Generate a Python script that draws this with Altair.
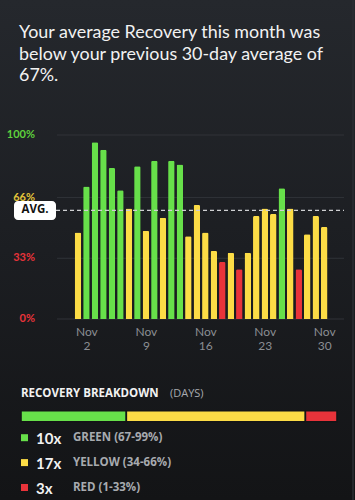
import altair as alt
import pandas as pd

# Daily recovery scores for November
days = list(range(1, 31))
recovery = [47, 72, 96, 92, 82, 70, 60, 83, 48, 86, 55, 86, 84, 45, 62,
            47, 37, 31, 36, 27, 36, 56, 60, 57, 71, 60, 27, 46, 56, 50]
month_avg = 59

zones = ["GREEN", "YELLOW", "RED"]
zone_colors = ["#67e04a", "#fcdc46", "#e8333a"]
zone_counts = [10, 17, 3]
zone_ranges = ["GREEN (67-99%)", "YELLOW (34-66%)", "RED (1-33%)"]

headline = ["Your average Recovery this month was",
            "below your previous 30-day average of",
            "67%."]

x_ticks = [2, 9, 16, 23, 30]
y_ticks = [0, 33, 66, 100]
y_tick_colors = ["#e8333a", "#e8333a", "#e3c53a", "#5fd13d"]

BG_LOW = "#131416"
FONT = "Lato"
CAPS_FONT = "Open Sans"


def zone_of(v):
    if v >= 67:
        return "GREEN"
    if v >= 34:
        return "YELLOW"
    return "RED"


df = pd.DataFrame({"day": days, "recovery": recovery,
                   "zone": [zone_of(v) for v in recovery]})
ticks_df = pd.DataFrame({"tick": y_ticks, "tcolor": y_tick_colors,
                         "label": [f"{t}%" for t in y_ticks]})
one = pd.DataFrame({"k": [0]})

color = alt.Color("zone:N", scale=alt.Scale(domain=zones, range=zone_colors),
                  legend=None)
y_scale = alt.Scale(domain=[0, 100], nice=False)

# ---- backdrop: dark vertical gradient ---------------------------------
backdrop = alt.Chart(one).mark_rect(
    color=alt.LinearGradient(
        gradient="linear", x1=0, y1=0, x2=0, y2=1,
        stops=[alt.GradientStop(color="#25282d", offset=0),
               alt.GradientStop(color="#1c1e22", offset=0.5),
               alt.GradientStop(color=BG_LOW, offset=1)])
).encode(x=alt.value(-57), x2=alt.value(298), y=alt.value(-135), y2=alt.value(365))

edge = alt.Chart(one).mark_rule(color="#2b2e33", strokeWidth=1.5).encode(
    x=alt.value(296), y=alt.value(-135), y2=alt.value(365))

# ---- main recovery bar chart -------------------------------------------
grid = alt.Chart(ticks_df).mark_rule(color="#303338", strokeWidth=1).encode(
    x=alt.value(0), x2=alt.value(287),
    y=alt.Y("tick:Q", scale=y_scale, axis=None))

y_labels = alt.Chart(ticks_df).mark_text(
    font=FONT, fontSize=11, fontWeight="bold", align="right", baseline="middle"
).encode(
    x=alt.value(-22), y=alt.Y("tick:Q", scale=y_scale, axis=None),
    text="label:N", color=alt.Color("tcolor:N", scale=None))

bars = alt.Chart(df).mark_bar(
    width=6.5, cornerRadiusTopLeft=1.5, cornerRadiusTopRight=1.5
).encode(
    x=alt.X("day:Q",
            scale=alt.Scale(domain=[-0.875, 31.74], nice=False, zero=False),
            axis=alt.Axis(values=x_ticks, title=None, grid=False, domain=False,
                          ticks=False, labelExpr="['Nov', datum.label]",
                          labelColor="#8b8e93", labelFont=FONT, labelFontSize=12,
                          labelLineHeight=14, labelPadding=7, labelBaseline="top",
                          zindex=1)),
    y=alt.Y("recovery:Q", scale=y_scale, axis=None),
    color=color,
)

avg_rule = alt.Chart(one).mark_rule(
    color="#cfd0d2", strokeDash=[4, 3], strokeWidth=1.2
).encode(x=alt.value(-1), x2=alt.value(287), y=alt.datum(month_avg))

avg_box = alt.Chart(one).mark_rect(
    color="white", cornerRadius=4, yOffset=-9.5, y2Offset=9.5
).encode(x=alt.value(-43), x2=alt.value(-1), y=alt.datum(month_avg),
         y2=alt.datum(month_avg))

avg_text = alt.Chart(one).mark_text(
    text="AVG.", font=CAPS_FONT, fontSize=11.5, fontWeight="bold", color="#111111",
    baseline="middle", align="center"
).encode(x=alt.value(-22), y=alt.datum(month_avg))

main = alt.layer(grid, y_labels, bars, avg_rule, avg_box, avg_text)

# ---- headline ----------------------------------------------------------
title_text = alt.Chart(one).mark_text(
    text=headline, font=FONT, fontSize=17.9, color="#f2f2f2", align="left",
    baseline="alphabetic", lineHeight=21.5
).encode(x=alt.value(-38), y=alt.value(-97))

# ---- recovery breakdown ------------------------------------------------
breakdown_title = alt.Chart(one).mark_text(
    text="RECOVERY BREAKDOWN", font=CAPS_FONT, fontSize=11.5, fontWeight="bold",
    color="#f2f2f2", align="left", baseline="alphabetic"
).encode(x=alt.value(-36), y=alt.value(262))

breakdown_unit = alt.Chart(one).mark_text(
    text="(DAYS)", font=CAPS_FONT, fontSize=11, color="#a7aaaf",
    align="left", baseline="alphabetic"
).encode(x=alt.value(113), y=alt.value(262))

seg_df = pd.DataFrame({"zone": zones, "count": zone_counts, "order": [0, 1, 2]})
strip = alt.Chart(seg_df).transform_window(
    end="sum(count)", sort=[alt.SortField("order")]
).transform_calculate(
    start="datum.end - datum.count"
).mark_rect(stroke=BG_LOW, strokeWidth=1.6).encode(
    x=alt.X("start:Q",
            scale=alt.Scale(domain=[0, sum(zone_counts)], range=[-36, 280], nice=False),
            axis=None),
    x2="end:Q",
    y=alt.value(275.7), y2=alt.value(286.7),
    color=color,
)

leg_df = pd.DataFrame({"row": [0, 1, 2], "zone": zones,
                       "times": [f"{c}x" for c in zone_counts],
                       "desc": zone_ranges})
row_y = alt.Y("row:Q", scale=alt.Scale(domain=[0, 2], range=[302.7, 352.5]),
              axis=None)
leg_sq = alt.Chart(leg_df).mark_square(size=49, opacity=1, filled=True).encode(
    x=alt.value(-32.5), y=row_y, color=color)
leg_times = alt.Chart(leg_df).mark_text(
    font=FONT, fontSize=15, fontWeight="bold", color="#f2f2f2",
    align="left", baseline="middle", dy=1
).encode(x=alt.value(-21), y=row_y, text="times:N")
leg_desc = alt.Chart(leg_df).mark_text(
    font=CAPS_FONT, fontSize=11.5, fontWeight="bold", color="#a7aaaf",
    align="left", baseline="middle"
).encode(x=alt.value(16), y=row_y, text="desc:N")
legend = alt.layer(leg_sq, leg_times, leg_desc)

chart = alt.layer(
    backdrop, edge, main, title_text, breakdown_title, breakdown_unit, strip, legend
).resolve_scale(x="independent", y="independent").properties(
    width=287, height=184, autosize="none",
    padding={"left": 57, "top": 135, "right": 11, "bottom": 181},
    background=BG_LOW,
).configure_view(stroke=None)

chart.save("out.html", embed_options={"renderer": "svg", "actions": False})
